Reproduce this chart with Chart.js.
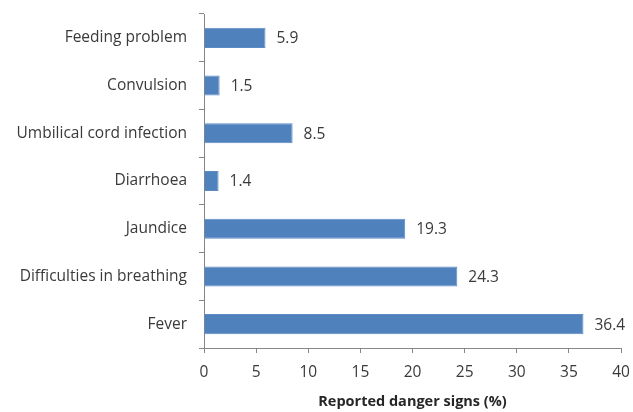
<!DOCTYPE html>
<html>
<head>
<meta charset="utf-8">
<script src="https://cdn.jsdelivr.net/npm/chart.js@4.4.1/dist/chart.umd.min.js"></script>
<style>
  html, body { margin: 0; padding: 0; background: #fff; }
  #wrap { width: 633px; height: 412px; }
</style>
</head>
<body>
<div id="wrap"><canvas id="signsChart" width="633" height="412"></canvas></div>
<script>
const signs = ['Feeding problem', 'Convulsion', 'Umbilical cord infection', 'Diarrhoea', 'Jaundice', 'Difficulties in breathing', 'Fever'];
const percents = [5.9, 1.5, 8.5, 1.4, 19.3, 24.3, 36.4];
const xTicks = [0, 5, 10, 15, 20, 25, 30, 35, 40];

const textColor = '#3a3a3a';
const axisColor = '#868686';
const fontName = 'Open Sans';

// value printed just right of each bar
const barValues = {
    id: 'barValues',
    afterDatasetsDraw(chart) {
        const ctx = chart.ctx;
        ctx.save();
        ctx.font = '15.5px "' + fontName + '"';
        ctx.fillStyle = textColor;
        ctx.textAlign = 'left';
        ctx.textBaseline = 'middle';
        chart.getDatasetMeta(0).data.forEach(function (bar, i) {
            ctx.fillText(percents[i].toFixed(1), bar.x + 11, bar.y + 1);
        });
        ctx.restore();
    }
};

document.addEventListener('DOMContentLoaded', function () {
    new Chart(document.getElementById('signsChart').getContext('2d'), {
        type: 'bar',
        data: {
            labels: signs,
            datasets: [{
                label: 'Reported danger signs (%)',
                data: percents,
                backgroundColor: '#4F81BD',
                borderColor: '#5B8CC6',
                borderWidth: 1,
                categoryPercentage: 1,
                barPercentage: 0.42
            }]
        },
        options: {
            indexAxis: 'y',
            responsive: false,
            animation: false,
            layout: { padding: { left: 0, right: 12, top: 14, bottom: 0 } },
            plugins: {
                legend: { display: false },
                tooltip: { enabled: false }
            },
            scales: {
                x: {
                    min: 0,
                    max: 40,
                    afterBuildTicks: function (scale) {
                        scale.ticks = xTicks.map(v => ({ value: v }));
                    },
                    afterFit: function (scale) {
                        scale.height = 64;
                        scale.paddingLeft = 0;
                        scale.paddingRight = 0;
                    },
                    grid: { drawOnChartArea: false, tickLength: 5, color: axisColor },
                    border: { color: axisColor, width: 1 },
                    ticks: { color: textColor, font: { family: fontName, size: 15.5 }, padding: 10 },
                    title: {
                        display: true,
                        text: 'Reported danger signs (%)',
                        color: '#262626',
                        font: { family: fontName, size: 14.5, weight: 'bold' },
                        padding: { top: 4, bottom: 1 }
                    }
                },
                y: {
                    afterFit: function (scale) {
                        scale.width = 204;
                        scale.paddingTop = 0;
                        scale.paddingBottom = 0;
                    },
                    grid: { drawOnChartArea: false, offset: true, tickLength: 5, color: axisColor },
                    border: { color: axisColor, width: 1 },
                    ticks: { color: textColor, font: { family: fontName, size: 15.5 }, padding: 12 }
                }
            }
        },
        plugins: [barValues]
    });
});
</script>
</body>
</html>
